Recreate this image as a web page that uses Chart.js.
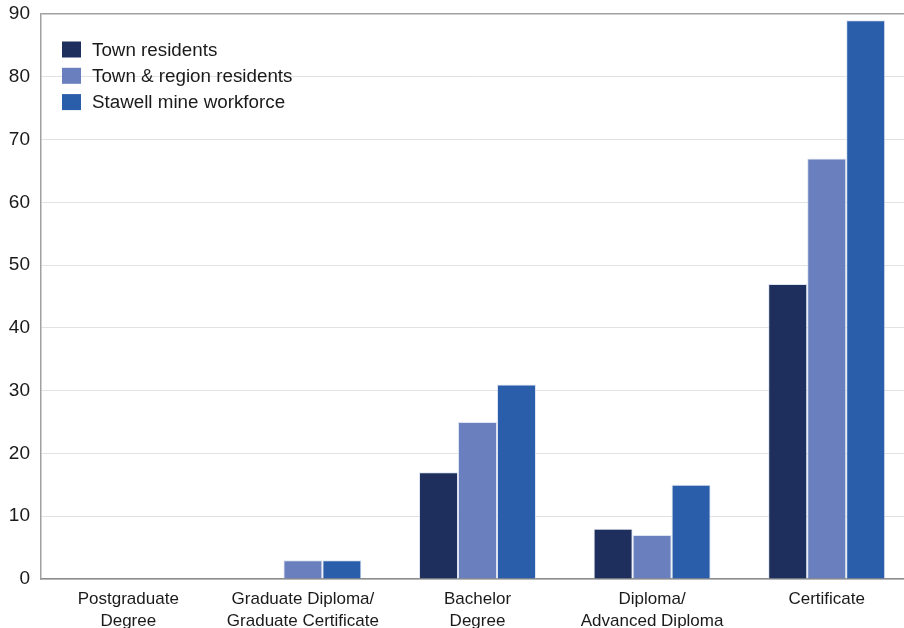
<!DOCTYPE html>
<html>
<head>
<meta charset="utf-8">
<script src="https://cdn.jsdelivr.net/npm/chart.js@4/dist/chart.umd.min.js"></script>
<style>
  html, body { margin: 0; padding: 0; background: #ffffff; overflow: hidden; }
  #wrap { width: 904px; height: 628px; overflow: hidden; position: relative; }
  #box { width: 914px; height: 628px; position: absolute; left: 0; top: 0; }
</style>
</head>
<body>
<div id="wrap"><div id="box"><canvas id="c"></canvas></div></div>
<script>
// Highest level of qualification attained (%)
const categories = [
  ["Postgraduate", "Degree"],
  ["Graduate Diploma/", "Graduate Certificate"],
  ["Bachelor", "Degree"],
  ["Diploma/", "Advanced Diploma"],
  ["Certificate"]
];
const seriesNames = ["Town residents", "Town & region residents", "Stawell mine workforce"];
const townResidents = [0, 0, 17, 8, 47];
const townRegionResidents = [0, 3, 25, 7, 67];
const mineWorkforce = [0, 3, 31, 15, 89];
const yTicks = [0, 10, 20, 30, 40, 50, 60, 70, 80, 90];

const colors = ["#1e2f5e", "#6a7fbd", "#2a5eab"];
const font = "'Liberation Sans', Arial, sans-serif";

// Legend drawn inside the plot area, top-left
const innerLegend = {
  id: "innerLegend",
  afterDraw(chart) {
    const ctx = chart.ctx;
    ctx.save();
    ctx.font = "18.8px " + font;
    ctx.textBaseline = "middle";
    chart.data.datasets.forEach((ds, i) => {
      const y = 49.5 + i * 26.3;
      ctx.fillStyle = ds.backgroundColor;
      ctx.fillRect(62, y - 8, 19, 16);
      ctx.fillStyle = "#1a1a1a";
      ctx.fillText(ds.label, 92, y + 1);
    });
    ctx.restore();
  }
};

const seriesValues = [townResidents, townRegionResidents, mineWorkforce];

new Chart(document.getElementById("c"), {
  type: "bar",
  data: {
    labels: categories,
    datasets: seriesNames.map((name, i) => ({
      label: name,
      data: seriesValues[i],
      backgroundColor: colors[i],
      borderColor: "rgba(210,218,236,0.75)",
      borderWidth: 1,
      categoryPercentage: 0.67,
      barPercentage: 1.0
    }))
  },
  options: {
    responsive: true,
    maintainAspectRatio: false,
    animation: false,
    layout: { padding: { top: 14, right: 0, left: 0, bottom: 0 } },
    plugins: { legend: { display: false }, tooltip: { enabled: false } },
    scales: {
      x: {
        grid: { display: false, drawTicks: false },
        border: { display: true, color: "#8c8c8c", width: 1.5 },
        ticks: {
          color: "#1a1a1a",
          font: { family: font, size: 17, lineHeight: 1.3 },
          padding: 9,
          maxRotation: 0,
          autoSkip: false
        },
        afterFit(scale) {
          scale.height = 49;
          scale.paddingLeft = 0;
          scale.paddingRight = 0;
        }
      },
      y: {
        min: 0,
        max: 90,
        afterBuildTicks(scale) { scale.ticks = yTicks.map(v => ({ value: v })); },
        grid: {
          drawTicks: false,
          color: ctx => (ctx.tick && ctx.tick.value === 90) ? "#a0a0a0" : "#e2e2e2",
          lineWidth: ctx => (ctx.tick && ctx.tick.value === 90) ? 1.5 : 1
        },
        border: { display: true, color: "#a0a0a0", width: 1.5 },
        ticks: {
          color: "#1a1a1a",
          font: { family: font, size: 19 },
          padding: 11
        },
        afterFit(scale) {
          scale.width = 41;
          scale.paddingTop = 0;
          scale.paddingBottom = 0;
        }
      }
    }
  },
  plugins: [innerLegend]
});
</script>
</body>
</html>
